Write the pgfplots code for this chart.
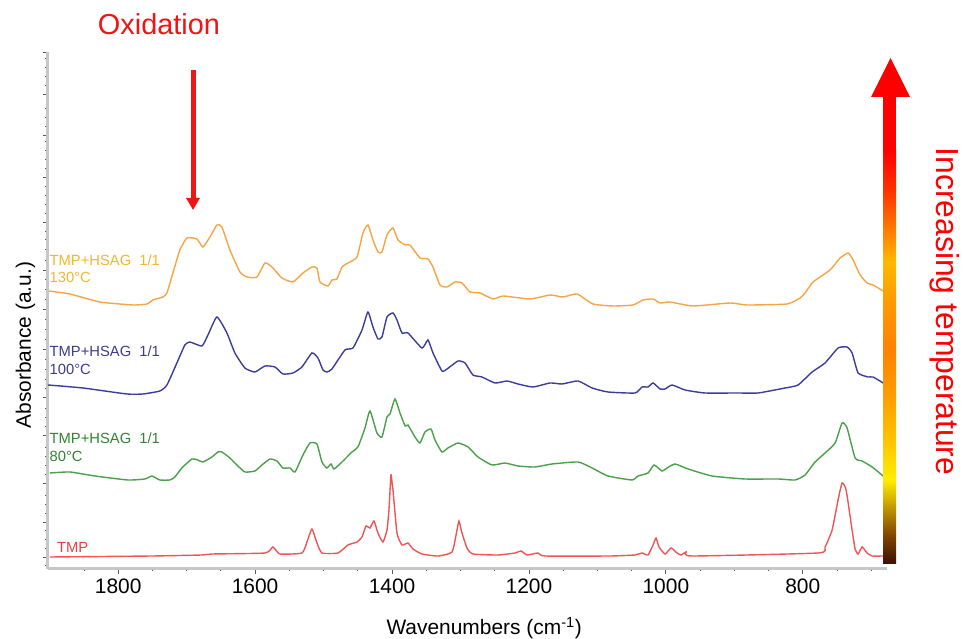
\documentclass[border=0pt]{standalone}
\usepackage{fontspec}
\setmainfont{Liberation Sans}
\usepackage{pgfplots}
\pgfplotsset{compat=1.18}
\usetikzlibrary{arrows.meta}

\definecolor{c130}{RGB}{245,165,70}
\definecolor{l130}{RGB}{245,180,50}
\definecolor{c100}{RGB}{60,60,155}
\definecolor{l100}{RGB}{60,60,140}
\definecolor{c80}{RGB}{75,160,75}
\definecolor{l80}{RGB}{50,130,50}
\definecolor{ctmp}{RGB}{240,85,85}
\definecolor{ltmp}{RGB}{240,60,60}
\definecolor{oxred}{RGB}{240,20,20}

\begin{document}
\begin{tikzpicture}[x=1bp,y=1bp]
\path[use as bounding box] (0,0) rectangle (963,639);

\begin{axis}[
    at={(47.7bp,70bp)}, anchor=south west,
    scale only axis,
    width=839.3bp, height=517bp,
    xmin=677, xmax=1903, x dir=reverse,
    ymin=0, ymax=517,
    axis x line*=bottom, axis y line*=left,
    axis line style={draw=black!22, line width=3bp},
    xtick={800,1000,...,1800},
    minor xtick={700,750,...,1850},
    ytick={12,47,86,134,172,220,260,299,347,392,434,475,517},
    minor ytick={4,21,30,39,56,65,74,95,104,113,122,143,152,161,181,190,200,210,230,240,250,270,280,290,309,320,330,338,356,365,374,383,401,410,419,428,443,452,461,484,493,502,511},
    yticklabels={},
    tick align=outside,
    major tick length=5bp, minor tick length=2.5bp,
    tick style={black!65, line width=0.9bp},
    xticklabel style={font=\fontsize{21}{24}\selectfont, anchor=base, yshift=-20bp},
    /pgf/number format/assume math mode=true,
    /pgf/number format/set thousands separator={},
    xlabel={Wavenumbers (cm\textsuperscript{-1})},
    xlabel style={font=\fontsize{21}{24}\selectfont, at={(axis description cs:0.52,0)}, anchor=base, yshift=-66bp},
    ylabel={Absorbance (a.u.)},
    ylabel style={font=\fontsize{21}{24}\selectfont, at={(axis description cs:0,0.433)}, anchor=base, yshift=16.7bp},
    every axis plot/.append style={line width=1.4bp, smooth, tension=0.3},
    clip=false,
]

% TMP+HSAG 1/1, 130 C
\addplot[c130] coordinates {
(1901.3,278) (1870.6,275) (1826.7,267) (1778.5,264) (1758.1,265) (1749.3,269)
(1734.7,272) (1728.8,276) (1720.1,296) (1709.9,319) (1699.6,331) (1685.0,330)
(1676.3,322) (1666.0,332) (1655.8,344) (1648.5,342) (1636.8,319) (1622.2,297)
(1612.0,292) (1597.4,292) (1585.6,306) (1575.4,302) (1560.8,291) (1544.8,287)
(1530.1,296) (1517.0,302) (1509.7,301) (1505.3,287) (1493.6,283) (1487.8,289)
(1480.5,290) (1473.1,302) (1464.4,306) (1451.2,312) (1442.5,336) (1435.2,344)
(1427.9,329) (1420.6,317) (1414.7,317) (1407.4,334) (1398.6,341) (1391.3,329)
(1380.8,324) (1373.8,324) (1359.2,311) (1347.5,310) (1340.2,302) (1330.0,284)
(1319.7,282) (1308.0,287) (1297.8,286) (1286.1,277) (1271.5,276) (1252.5,270)
(1237.9,273) (1198.4,270) (1169.2,274) (1150.2,272) (1129.8,275) (1106.4,265)
(1077.2,263) (1048.0,264) (1033.4,269) (1018.7,270) (1008.5,266) (993.9,267)
(960.3,263) (906.2,266) (881.4,264) (822.9,265) (804.0,271) (796.7,276)
(785.0,287) (760.2,299) (745.5,311) (733.8,316) (726.5,309) (716.3,294)
(706.1,286) (697.3,284) (682.7,278)
};

% TMP+HSAG 1/1, 100 C
\addplot[c100] coordinates {
(1902.7,184) (1851.6,181) (1787.3,175) (1763.9,175) (1739.1,178) (1728.8,184)
(1714.3,206) (1702.6,224) (1695.2,227) (1677.7,223) (1668.9,234) (1655.8,252)
(1641.2,236) (1629.5,216) (1614.9,201) (1600.3,197) (1585.6,203) (1571.0,202)
(1559.4,195) (1544.8,196) (1531.6,202) (1517.0,216) (1508.2,211) (1500.9,199)
(1495.1,197) (1487.8,200) (1468.8,219) (1457.1,221) (1443.9,239) (1435.2,257)
(1427.9,242) (1420.6,230) (1414.7,232) (1407.4,252) (1398.6,256) (1392.8,249)
(1385.5,236) (1376.7,236) (1356.3,221) (1347.5,229) (1340.2,216) (1327.1,198)
(1319.7,200) (1303.7,208) (1293.4,206) (1281.8,194) (1268.6,192) (1249.6,186)
(1232.0,188) (1216.0,185) (1194.1,182) (1169.2,186) (1151.7,185) (1128.3,188)
(1107.8,181) (1084.5,177) (1045.1,176) (1034.8,182) (1026.1,182) (1018.7,186)
(1008.5,180) (1001.2,180) (991.0,184) (972.0,179) (942.8,176) (894.6,176)
(865.3,176) (825.9,181) (806.9,184) (786.4,197) (767.5,206) (748.5,221)
(735.3,222) (728.0,216) (719.2,196) (704.6,192) (697.3,192) (682.7,186)
};

% TMP+HSAG 1/1, 80 C
\addplot[c80] coordinates {
(1899.8,96) (1870.6,97) (1834.0,93) (1785.8,89) (1761.0,90) (1750.8,93)
(1739.1,89) (1724.5,89) (1717.2,92) (1707.0,101) (1692.3,110) (1683.6,109)
(1676.3,107) (1663.1,112) (1654.3,117) (1648.5,117) (1636.8,111) (1625.1,103)
(1614.9,97) (1600.3,98) (1590.0,104) (1578.3,110) (1568.1,108) (1559.4,101)
(1549.1,101) (1541.8,97) (1530.1,114) (1519.9,126) (1509.7,125) (1502.4,107)
(1495.1,101) (1489.2,105) (1484.8,100) (1473.1,107) (1458.5,117) (1449.8,122)
(1439.5,141) (1432.2,158) (1422.1,136) (1414.7,132) (1407.4,152) (1403.0,155)
(1395.7,170) (1388.4,156) (1380.8,143) (1376.7,144) (1366.5,132) (1359.2,126)
(1351.9,137) (1343.1,140) (1337.3,129) (1327.1,117) (1318.3,121) (1303.7,126)
(1289.0,122) (1274.4,112) (1254.0,104) (1235.0,106) (1216.0,103) (1191.2,102)
(1166.3,105) (1128.3,107) (1107.8,101) (1084.5,93) (1049.4,89) (1040.7,93)
(1026.1,96) (1017.3,104) (1005.6,98) (998.3,101) (986.6,105) (967.6,100)
(932.5,93) (884.3,90) (836.1,90) (811.3,89) (796.7,94) (782.1,107)
(767.5,116) (752.8,126) (742.6,146) (735.3,141) (723.6,111) (713.4,108)
(698.7,102) (682.7,93)
};

% TMP
\addplot[ctmp] coordinates {
(1899.8,12) (1750.8,13) (1677.7,14) (1663.1,15) (1585.6,16) (1574.0,22)
(1563.7,15) (1531.6,16) (1524.3,27) (1517.0,40) (1509.7,26) (1502.4,16)
(1479.0,16) (1464.4,24) (1451.2,27) (1443.9,32) (1438.1,43) (1432.2,41)
(1426.4,48) (1420.6,36) (1413.3,27) (1407.4,39) (1404.5,59) (1401.6,94)
(1400.1,87) (1398.6,79) (1392.8,36) (1385.5,24) (1376.7,26) (1369.4,20)
(1356.3,15) (1332.9,13) (1312.4,17) (1305.1,39) (1302.2,48) (1297.8,36)
(1290.5,21) (1281.8,15) (1245.2,14) (1220.4,16) (1211.6,18) (1202.8,14)
(1186.8,16) (1176.6,13) (1081.6,13) (1045.1,14) (1034.8,16) (1026.1,14)
(1018.7,24) (1014.4,31) (1010.0,22) (1001.2,15) (992.4,21) (983.7,16)
(977.8,14) (970.5,17) (961.7,13) (777.7,16) (767.5,22) (757.2,39)
(748.5,69) (742.6,86) (736.7,79) (728.0,39) (723.6,20) (719.2,15)
(713.4,22) (706.1,16) (698.7,13) (682.7,13)
};
\end{axis}

% curve labels
\begin{scope}[every node/.style={anchor=base west, inner sep=0pt, font=\fontsize{14.8}{17}\selectfont}]
\node[text=l130] at (49.5,373.5) {TMP+HSAG~~1/1};
\node[text=l130] at (49.5,356) {130°C};
\node[text=l100] at (49.5,282.3) {TMP+HSAG~~1/1};
\node[text=l100] at (49.5,264) {100°C};
\node[text=l80] at (49.5,195.7) {TMP+HSAG~~1/1};
\node[text=l80] at (49.5,177.3) {80°C};
\node[text=ltmp] at (57,86.7) {TMP};
\end{scope}

% oxidation marker
\node[anchor=base, inner sep=0pt, text=oxred, font=\fontsize{29}{32}\selectfont] at (159,604) {Oxidation};
\draw[oxred, line width=5bp, -{Triangle[width=13bp,length=12bp]}] (193,569) -- (193,429);

% temperature arrow
\shade[bottom color={rgb,255:red,60;green,15;blue,5}, top color={rgb,255:red,130;green,70;blue,0}] (883,75) rectangle (896,104.3);
\shade[bottom color={rgb,255:red,130;green,70;blue,0}, top color={rgb,255:red,200;green,160;blue,0}] (883,104) rectangle (896,134.3);
\shade[bottom color={rgb,255:red,200;green,160;blue,0}, top color={rgb,255:red,255;green,238;blue,0}] (883,134) rectangle (896,159.3);
\shade[bottom color={rgb,255:red,255;green,238;blue,0}, top color={rgb,255:red,255;green,200;blue,0}] (883,159) rectangle (896,194.3);
\shade[bottom color={rgb,255:red,255;green,200;blue,0}, top color={rgb,255:red,255;green,160;blue,0}] (883,194) rectangle (896,239.3);
\shade[bottom color={rgb,255:red,255;green,160;blue,0}, top color={rgb,255:red,255;green,130;blue,0}] (883,239) rectangle (896,289.3);
\shade[bottom color={rgb,255:red,255;green,130;blue,0}, top color={rgb,255:red,255;green,155;blue,0}] (883,289) rectangle (896,339.3);
\shade[bottom color={rgb,255:red,255;green,155;blue,0}, top color={rgb,255:red,255;green,185;blue,0}] (883,339) rectangle (896,377.3);
\shade[bottom color={rgb,255:red,255;green,185;blue,0}, top color={rgb,255:red,255;green,115;blue,0}] (883,377) rectangle (896,414.3);
\shade[bottom color={rgb,255:red,255;green,115;blue,0}, top color={rgb,255:red,255;green,50;blue,0}] (883,414) rectangle (896,449.3);
\shade[bottom color={rgb,255:red,255;green,50;blue,0}, top color={rgb,255:red,255;green,0;blue,0}] (883,449) rectangle (896,489.3);
\fill[red] (883,489) rectangle (896,543);
\fill[red] (871,542) -- (910,542) -- (890.5,581) -- cycle;
\node[rotate=-90, anchor=base, inner sep=0pt, text=red, font=\fontsize{32}{36}\selectfont] at (936,327.5) {Increasing temperature};
\end{tikzpicture}
\end{document}
